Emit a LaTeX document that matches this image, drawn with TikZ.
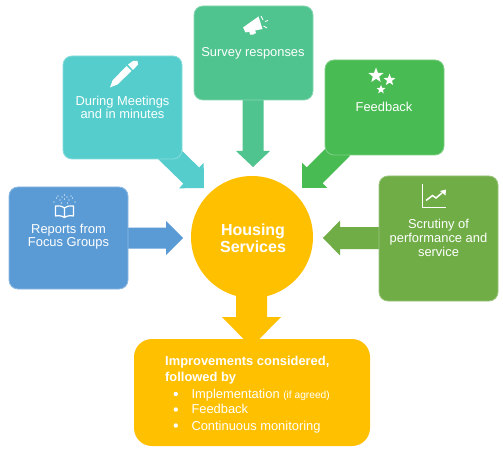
\documentclass[tikz,border=0pt]{standalone}
\usepackage{fontspec}
\setmainfont{Liberation Sans}
\usetikzlibrary{calc,shapes.geometric}
\definecolor{cblue}{HTML}{5B9BD5}
\definecolor{cteal}{HTML}{54CDCC}
\definecolor{csurvey}{HTML}{50C48F}
\definecolor{cfeed}{HTML}{48BB52}
\definecolor{colive}{HTML}{70AD47}
\definecolor{corange}{HTML}{FFC000}
\newcommand\blockarrow[6]{%
  \coordinate (neck) at ($(#2)!#5pt!(#1)$);
  \fill[#6] ($(#1)!#3pt!90:(#2)$) -- ($(neck)!#3pt!90:(#2)$) -- ($(neck)!#4pt!90:(#2)$) -- (#2)
    -- ($(neck)!#4pt!-90:(#2)$) -- ($(neck)!#3pt!-90:(#2)$) -- ($(#1)!#3pt!-90:(#2)$) -- cycle;}
\tikzset{
  x=1pt,y=-1pt,
  boxnode/.style={rectangle,rounded corners=9pt,inner sep=0pt,outer sep=0pt,line width=0.8pt,minimum width=119pt},
  txt/.style={text=white,font=\fontsize{12.9}{13}\selectfont,align=center,inner sep=0pt},
  listtxt/.style={text=white,font=\fontsize{12.9}{13}\selectfont,inner sep=0pt,anchor=base west},
  ico/.style={white,line width=1.2pt},
  starnode/.style={star,star points=5,star point ratio=2.4,fill=white,draw=none,inner sep=0pt}
}
\begin{document}
\begin{tikzpicture}
\useasboundingbox (0,0) rectangle (503,457);
\fill[white] (0,0) rectangle (503,457);
% arrow end points
\coordinate (ablueT) at (125,238);  \coordinate (ablueH) at (183,238);
\coordinate (atealT) at (165,150);  \coordinate (atealH) at (204,188);
\coordinate (asurvT) at (253,98);   \coordinate (asurvH) at (253,167);
\coordinate (afeedT) at (342,148);  \coordinate (afeedH) at (302,188);
\coordinate (aoliveT) at (382,238); \coordinate (aoliveH) at (323,238);
\coordinate (aimpT) at (251.5,285); \coordinate (aimpH) at (251.5,347);
\blockarrow{ablueT}{ablueH}{10.5}{17}{17}{cblue}
\blockarrow{atealT}{atealH}{11.3}{17.7}{17.7}{cteal}
\blockarrow{asurvT}{asurvH}{10.5}{17}{16}{csurvey}
\blockarrow{afeedT}{afeedH}{11.3}{18}{18}{cfeed}
\blockarrow{aoliveT}{aoliveH}{11}{17.5}{17}{colive}
\blockarrow{aimpT}{aimpH}{15.5}{29.5}{30}{corange}
% boxes
\node[boxnode,fill=cblue,draw=cblue!70!white,minimum height=102pt] (blue) at (68.5,238) {};
\node[boxnode,fill=cteal,draw=cteal!70!white,minimum height=103pt] (teal) at (122.5,107.5) {};
\node[boxnode,fill=csurvey,draw=csurvey!70!white,minimum height=94pt] (survey) at (253.5,53) {};
\node[boxnode,fill=cfeed,draw=cfeed!70!white,minimum height=95pt] (feed) at (384.5,107.5) {};
\node[boxnode,fill=colive,draw=colive!70!white,minimum height=125pt] (olive) at (438.5,238.5) {};
\node[circle,fill=corange,inner sep=0pt,minimum size=122pt] (hub) at (252,237) {};
\node[rectangle,rounded corners=18pt,fill=corange,inner sep=0pt,minimum width=236pt,minimum height=107pt] (impr) at (252,392.5) {};
% texts
\node[txt] (tblue) at (68.5,236.5) {Reports from\\Focus Groups};
\node[txt] (tteal) at (122.5,107) {During Meetings\\and in minutes};
\node[txt,anchor=base] (tsurvey) at (253,57) {Survey responses};
\node[txt,anchor=base] (tfeed) at (384,111.5) {Feedback};
\node[txt,font=\fontsize{12.9}{14}\selectfont] (tolive) at (438.5,237.5) {Scrutiny of\\performance and\\service};
\node[txt,font=\bfseries\fontsize{16}{17.5}\selectfont] (thub) at (253,238.5) {Housing\\Services};
\node[listtxt,font=\bfseries\fontsize{12.9}{13}\selectfont] (l1) at (165,365) {Improvements considered,};
\node[listtxt,font=\bfseries\fontsize{12.9}{13}\selectfont] (l2) at (165,381) {followed by};
\node[listtxt] (l3) at (191.3,398) {Implementation {\fontsize{10.2}{10}\selectfont (if agreed)}};
\node[listtxt] (l4) at (191.3,413) {Feedback};
\node[listtxt] (l5) at (191.3,430) {Continuous monitoring};
\foreach \yy in {394,409.5,425.5} \fill[white] (175.8,\yy) circle (2.2pt);
% pen icon
\fill[white] (110,87.5) -- (112.5,80.5) -- (126.5,66) -- (131.5,71) -- (117.5,84.5) -- cycle;
\fill[white] (128,64.5) -- (133,61) -- (137.5,61) -- (138,64.5) -- (133,70) -- cycle;
% megaphone icon
\fill[white] (243,27.5) -- (258.5,16.5) -- (262.5,29) -- (245.5,32.5) -- cycle;
\fill[white] (249,31) -- (255,30) -- (256,33) to[bend left=30] (250,34.5) -- cycle;
\draw[white,line width=0.9pt] (261,16) -- (263,20) (265,21.5) -- (268,20.5) (263.5,26) -- (267,28);
% book icon
\draw[ico,line join=round] (64.5,208) .. controls (61,205.5) and (58,205.5) .. (55.5,206) -- (55.5,216) .. controls (58,215.5) and (62,215.5) .. (64.5,217.5) .. controls (67,215.5) and (71,215.5) .. (73.5,216) -- (73.5,206) .. controls (71,205.5) and (68,205.5) .. (64.5,208) -- (64.5,217.5);
\foreach \dx/\dy in {54/202,56.5/198,58/196,60/200,62/197,64.5/195,64.5/199,67/197,69/200,71/196,72.5/198,75/202,61.5/203,67.5/203}
  \fill[white] (\dx,\dy) circle (0.65pt);
% stars icon
\node[starnode,minimum size=16pt] (s1) at (376,75.5) {};
\node[starnode,minimum size=12.5pt] (s2) at (389.5,80) {};
\node[starnode,minimum size=9.5pt] (s3) at (381,89.5) {};
% chart icon
\draw[ico] (422.3,184) -- (422.3,207.3) -- (446,207.3);
\draw[white,line width=1.5pt] (426,200.5) -- (432.5,195.5) -- (436,198) -- (442,193);
\fill[white] (446,189.5) -- (445.5,195.5) -- (440,191) -- cycle;
\end{tikzpicture}
\end{document}
